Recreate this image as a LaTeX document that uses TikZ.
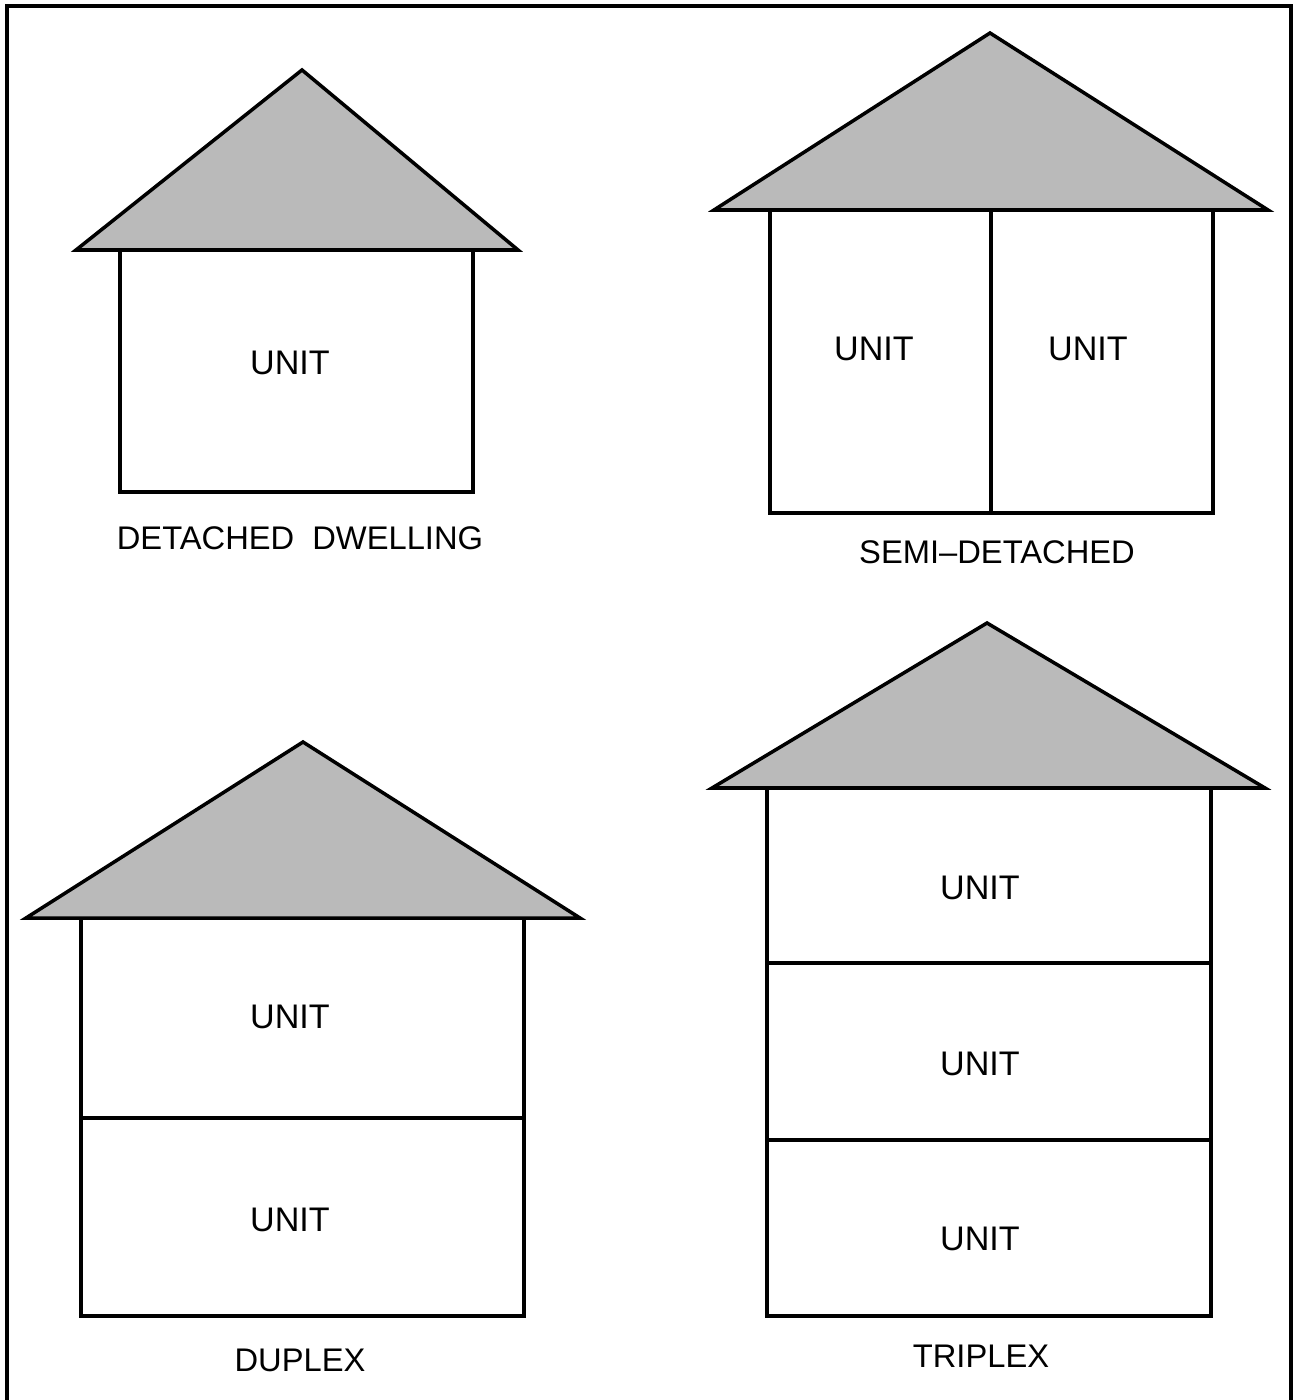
\documentclass[tikz,border=0pt]{standalone}
\usepackage{fontspec}
\setmainfont{Liberation Sans}
\usepackage{tikz}
\tikzset{
	wall/.style={line width=1pt, line join=miter},
	roof/.style={line width=1pt, line join=miter, fill=black!27},
	unitlabel/.style={font=\fontsize{9.7}{11}\selectfont},
	kindlabel/.style={font=\fontsize{9.3}{11}\selectfont}
}
\begin{document}
\begin{tikzpicture}[x=0.01cm, y=-0.01cm]
		%%%%% START %%%%%
		\useasboundingbox (0, 0) rectangle (1293, 1400);
		\draw[line width=1pt] (7, 6) rectangle (1291, 1405);
		
		% detached dwelling
		\draw[roof] (76, 250) -- (302, 70) -- (518, 250) -- cycle;
		\draw[wall] (120, 250) -- (120, 492) -- (473, 492) -- (473, 250);
		\node[unitlabel] (dd) at (290, 363) {UNIT};
		\node[kindlabel] (ddname) at (300, 538) {DETACHED\hspace{0.55em}DWELLING};
		
		% semi-detached
		\draw[roof] (714, 210) -- (990, 33) -- (1268, 210) -- cycle;
		\draw[wall] (770, 210) -- (770, 513) -- (1213, 513) -- (1213, 210);
		\draw[wall] (991, 210) -- (991, 513);
		\node[unitlabel] (sdl) at (874, 349) {UNIT};
		\node[unitlabel] (sdr) at (1088, 349) {UNIT};
		\node[kindlabel] (sdname) at (997, 552) {SEMI--DETACHED};
		
		% duplex
		\draw[roof] (26, 918) -- (303, 742) -- (580, 918) -- cycle;
		\draw[wall] (81, 918) -- (81, 1316) -- (524, 1316) -- (524, 918);
		\draw[wall] (81, 1118) -- (524, 1118);
		\node[unitlabel] (dxa) at (290, 1017) {UNIT};
		\node[unitlabel] (dxb) at (290, 1220) {UNIT};
		\node[kindlabel] (dxname) at (300, 1360) {DUPLEX};
		
		% triplex
		\draw[roof] (712, 788) -- (987, 623) -- (1265, 788) -- cycle;
		\draw[wall] (767, 788) -- (767, 1316) -- (1211, 1316) -- (1211, 788);
		\draw[wall] (767, 963) -- (1211, 963);
		\draw[wall] (767, 1140) -- (1211, 1140);
		\node[unitlabel] (txa) at (980, 888) {UNIT};
		\node[unitlabel] (txb) at (980, 1064) {UNIT};
		\node[unitlabel] (txc) at (980, 1239) {UNIT};
		\node[kindlabel] (txname) at (981, 1356) {TRIPLEX};
		%%%%% END %%%%%
\end{tikzpicture}
\end{document}
